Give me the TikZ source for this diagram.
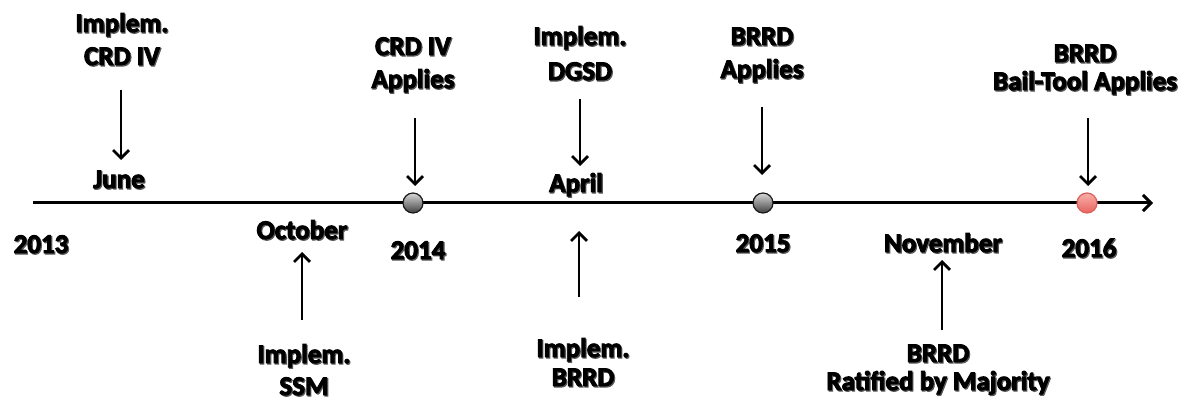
\documentclass[tikz,border=0pt]{standalone}
\usepackage{fontspec}
\setmainfont{Carlito}[BoldFont=Carlito Bold, BoldFeatures={FakeBold=3.5}]
\usetikzlibrary{arrows.meta}
\definecolor{shadowc}{gray}{0.35}
\definecolor{redtop}{RGB}{250,175,170}
\definecolor{redbot}{RGB}{232,100,95}
\definecolor{redline}{RGB}{222,95,90}
\newcommand\shd[1]{\leavevmode\rlap{\kern1.1pt\raisebox{-1.2pt}{\textcolor{shadowc}{#1}}}#1}
\tikzset{
  lbl/.style={anchor=base, inner sep=0pt, font=\fontsize{27}{33}\selectfont\bfseries},
  arr/.style={line width=2.8pt, -{Straight Barb[length=8pt,width=16pt]}},
  tline/.style={line width=3pt, -{Straight Barb[length=8pt,width=16pt]}},
  dotg/.style={circle, minimum size=20pt, inner sep=0pt, draw=black!90, line width=1.2pt, top color=gray!30, bottom color=black!75},
  dotr/.style={circle, minimum size=20pt, inner sep=0pt, draw=redline, line width=1.2pt, top color=redtop, bottom color=redbot}
}
\begin{document}
\begin{tikzpicture}[x=1pt,y=-1pt]
\useasboundingbox (0,0) rectangle (1193,403);
% timeline
\coordinate (ts) at (33,203);
\coordinate (te) at (1153,203);
\draw[tline] (ts) -- (te);
\node[dotg] (c2014) at (413,203) {};
\node[dotg] (c2015) at (763,203) {};
\node[dotr] (c2016) at (1087,203) {};
% labels
\node[lbl] (l1a) at (122,32) {\shd{Implem.}};
\node[lbl] (l1b) at (122,65) {\shd{CRD IV}};
\node[lbl] (june) at (119,188) {\shd{June}};
\node[lbl] (y2013) at (41,253) {\shd{2013}};
\node[lbl] (oct) at (302,239) {\shd{October}};
\node[lbl] (l2a) at (304,363) {\shd{Implem.}};
\node[lbl] (l2b) at (304,395) {\shd{SSM}};
\node[lbl] (l3a) at (413,55) {\shd{CRD IV}};
\node[lbl] (l3b) at (413,88) {\shd{Applies}};
\node[lbl] (y2014) at (418,259) {\shd{2014}};
\node[lbl] (l4a) at (580,45) {\shd{Implem.}};
\node[lbl] (l4b) at (580,80) {\shd{DGSD}};
\node[lbl] (april) at (576,192) {\shd{April}};
\node[lbl] (l5a) at (583,357) {\shd{Implem.}};
\node[lbl] (l5b) at (583,386) {\shd{BRRD}};
\node[lbl] (l6a) at (762,45) {\shd{BRRD}};
\node[lbl] (l6b) at (762,78) {\shd{Applies}};
\node[lbl] (y2015) at (763,252) {\shd{2015}};
\node[lbl] (nov) at (943,252) {\shd{November}};
\node[lbl] (l7a) at (938,362) {\shd{BRRD}};
\node[lbl] (l7b) at (938,390) {\shd{Ratified by Majority}};
\node[lbl] (l8a) at (1085,62) {\shd{BRRD}};
\node[lbl] (l8b) at (1085,90) {\shd{Bail-Tool Applies}};
\node[lbl] (y2016) at (1089,257) {\shd{2016}};
% arrows
\coordinate (a1s) at (121,90);   \coordinate (a1e) at (121,160);
\coordinate (a2s) at (302,320);  \coordinate (a2e) at (302,252);
\coordinate (a3s) at (415,118);  \coordinate (a3e) at (415,186);
\coordinate (a4s) at (580,99);   \coordinate (a4e) at (580,166);
\coordinate (a5s) at (579,297);  \coordinate (a5e) at (579,231);
\coordinate (a6s) at (762,107);  \coordinate (a6e) at (762,175);
\coordinate (a7s) at (942,330);  \coordinate (a7e) at (942,260);
\coordinate (a8s) at (1088,118); \coordinate (a8e) at (1088,186);
\draw[arr] (a1s) -- (a1e);
\draw[arr] (a2s) -- (a2e);
\draw[arr] (a3s) -- (a3e);
\draw[arr] (a4s) -- (a4e);
\draw[arr] (a5s) -- (a5e);
\draw[arr] (a6s) -- (a6e);
\draw[arr] (a7s) -- (a7e);
\draw[arr] (a8s) -- (a8e);
\end{tikzpicture}
\end{document}
